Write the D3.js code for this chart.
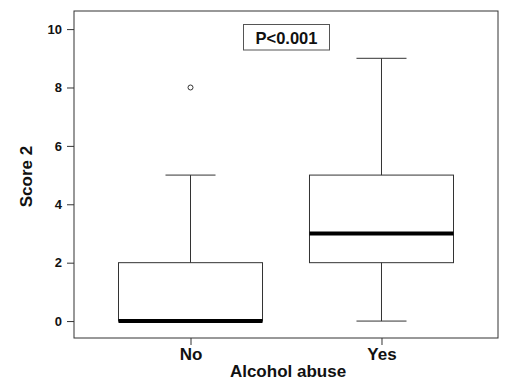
<!DOCTYPE html>
<html>
<head>
<meta charset="utf-8">
<script src="https://cdn.jsdelivr.net/npm/d3@7"></script>
<style>
  body { margin: 0; background: #fff; }
  text { font-family: "Liberation Sans", Arial, sans-serif; font-weight: bold; }
</style>
</head>
<body>
<svg id="chart" width="515" height="383"></svg>
<script>
// Box statistics
const groups = ["No", "Yes"];
const lowWhisker = [0, 0];
const q1 = [0, 2];
const medians = [0, 3];
const q3 = [2, 5];
const highWhisker = [5, 9];
const outliers = [[8], []];
const yTicks = [0, 2, 4, 6, 8, 10];

const svg = d3.select("#chart");

// Plot frame
const plotLeft = 74, plotRight = 498, plotTop = 11, plotBottom = 338;

const x = d3.scaleLinear().domain([0.39, 2.61]).range([plotLeft, plotRight]);
const y = d3.scaleLinear().domain([-0.58, 10.62]).range([plotBottom, plotTop]);

const boxHalf = 0.377;   // in x units
const capHalf = 0.131;
const ink = "#333";

// Frame
svg.append("rect")
  .attr("x", plotLeft).attr("y", plotTop)
  .attr("width", plotRight - plotLeft).attr("height", plotBottom - plotTop)
  .attr("fill", "none").attr("stroke", ink).attr("stroke-width", 1);

// Y axis
const yAxis = svg.append("g")
  .attr("transform", `translate(${plotLeft},0)`)
  .call(d3.axisLeft(y).tickValues(yTicks).tickSize(7).tickPadding(5));
yAxis.select(".domain").remove();
yAxis.selectAll("line").attr("stroke", ink);
yAxis.selectAll("text")
  .attr("font-size", "13px").attr("font-family", "Liberation Sans, Arial, sans-serif")
  .attr("font-weight", "bold").attr("fill", "#111");

// X axis
const xAxis = svg.append("g")
  .attr("transform", `translate(0,${plotBottom})`)
  .call(d3.axisBottom(x).tickValues([1, 2]).tickFormat((d) => groups[d - 1]).tickSize(7).tickPadding(3));
xAxis.select(".domain").remove();
xAxis.selectAll("line").attr("stroke", ink);
xAxis.selectAll("text")
  .attr("font-size", "17px").attr("font-family", "Liberation Sans, Arial, sans-serif")
  .attr("font-weight", "bold").attr("fill", "#111");

// Axis titles
svg.append("text")
  .attr("x", (plotLeft + plotRight) / 2 + 2).attr("y", 377)
  .attr("text-anchor", "middle").attr("font-size", "17px").attr("fill", "#111")
  .text("Alcohol abuse");

svg.append("text")
  .attr("transform", `translate(32,${(plotTop + plotBottom) / 2 + 2}) rotate(-90)`)
  .attr("text-anchor", "middle").attr("font-size", "17px").attr("fill", "#111")
  .text("Score 2");

// Boxes
groups.forEach((g, i) => {
  const c = i + 1;
  const b = svg.append("g").attr("class", "box");

  // whiskers
  b.append("line")
    .attr("x1", x(c)).attr("x2", x(c))
    .attr("y1", y(lowWhisker[i])).attr("y2", y(q1[i]))
    .attr("stroke", ink);
  b.append("line")
    .attr("x1", x(c)).attr("x2", x(c))
    .attr("y1", y(q3[i])).attr("y2", y(highWhisker[i]))
    .attr("stroke", ink);
  [lowWhisker[i], highWhisker[i]].forEach((v) => {
    b.append("line")
      .attr("x1", x(c - capHalf)).attr("x2", x(c + capHalf))
      .attr("y1", y(v)).attr("y2", y(v))
      .attr("stroke", ink);
  });

  // box
  b.append("rect")
    .attr("x", x(c - boxHalf)).attr("y", y(q3[i]))
    .attr("width", x(c + boxHalf) - x(c - boxHalf))
    .attr("height", y(q1[i]) - y(q3[i]))
    .attr("fill", "none").attr("stroke", ink);

  // median
  b.append("line")
    .attr("x1", x(c - boxHalf)).attr("x2", x(c + boxHalf))
    .attr("y1", y(medians[i])).attr("y2", y(medians[i]))
    .attr("stroke", "#000").attr("stroke-width", 4);

  // outliers
  outliers[i].forEach((v) => {
    b.append("circle")
      .attr("cx", x(c)).attr("cy", y(v)).attr("r", 2.5)
      .attr("fill", "none").attr("stroke", ink);
  });
});

// P-value box
svg.append("rect")
  .attr("x", 243.5).attr("y", 24.5).attr("width", 86).attr("height", 25.5)
  .attr("fill", "#fff").attr("stroke", "#555");
svg.append("text")
  .attr("x", 286.5).attr("y", 43.5)
  .attr("text-anchor", "middle").attr("font-size", "16.5px").attr("fill", "#111")
  .text("P<0.001");
</script>
</body>
</html>
